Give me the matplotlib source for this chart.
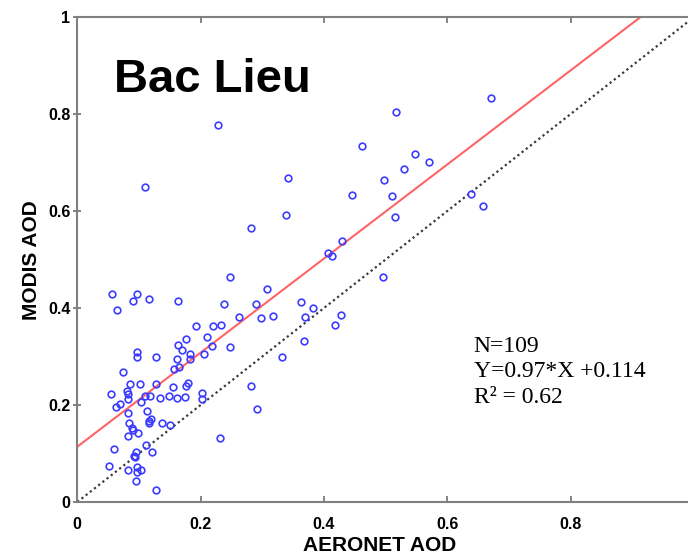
import matplotlib
matplotlib.use("Agg")
import matplotlib.pyplot as plt
import numpy as np

# AERONET AOD (x) and MODIS AOD (y)
aeronet = [0.056, 0.065, 0.091, 0.097, 0.117, 0.164, 0.247, 0.238, 0.290, 0.308,
           0.262, 0.298, 0.192, 0.220, 0.233, 0.177, 0.211, 0.164, 0.170, 0.219,
           0.248, 0.097, 0.097, 0.128, 0.182, 0.182, 0.206, 0.161, 0.157, 0.165,
           0.074, 0.086, 0.101, 0.128, 0.155, 0.177, 0.179, 0.081, 0.083, 0.054,
           0.083, 0.109, 0.118, 0.134, 0.148, 0.162, 0.174, 0.202, 0.202, 0.282,
           0.291, 0.062, 0.069, 0.104, 0.083, 0.113, 0.120, 0.117, 0.116, 0.084,
           0.138, 0.151, 0.088, 0.090, 0.099, 0.082, 0.231, 0.111, 0.059, 0.095,
           0.121, 0.092, 0.093, 0.052, 0.097, 0.083, 0.104, 0.096, 0.095, 0.128,
           0.228, 0.342, 0.446, 0.339, 0.282, 0.430, 0.407, 0.413, 0.362, 0.383,
           0.317, 0.370, 0.427, 0.418, 0.671, 0.516, 0.462, 0.548, 0.571, 0.529,
           0.498, 0.511, 0.515, 0.638, 0.658, 0.495, 0.367, 0.332, 0.110]
modis = [0.428, 0.396, 0.415, 0.428, 0.418, 0.415, 0.464, 0.408, 0.409, 0.439,
         0.382, 0.379, 0.363, 0.363, 0.365, 0.336, 0.340, 0.323, 0.314, 0.322,
         0.320, 0.310, 0.299, 0.299, 0.306, 0.295, 0.305, 0.295, 0.274, 0.279,
         0.268, 0.244, 0.244, 0.244, 0.237, 0.239, 0.246, 0.229, 0.222, 0.222,
         0.212, 0.218, 0.218, 0.215, 0.218, 0.214, 0.217, 0.224, 0.212, 0.240,
         0.192, 0.195, 0.202, 0.207, 0.183, 0.188, 0.171, 0.166, 0.162, 0.163,
         0.162, 0.159, 0.152, 0.148, 0.142, 0.137, 0.132, 0.117, 0.109, 0.104,
         0.103, 0.094, 0.092, 0.075, 0.073, 0.067, 0.065, 0.061, 0.044, 0.024,
         0.778, 0.669, 0.633, 0.591, 0.564, 0.538, 0.514, 0.507, 0.413, 0.400,
         0.384, 0.382, 0.385, 0.365, 0.833, 0.805, 0.733, 0.717, 0.701, 0.687,
         0.663, 0.630, 0.588, 0.635, 0.611, 0.463, 0.331, 0.300, 0.650]

slope = 0.97
intercept = 0.114
n_points = 109
r2 = 0.62
site = "Bac Lieu"
xticks = [0, 0.2, 0.4, 0.6, 0.8]
xticklabels = ["0", "0.2", "0.4", "0.6", "0.8"]
yticks = [0, 0.2, 0.4, 0.6, 0.8, 1.0]
yticklabels = ["0", "0.2", "0.4", "0.6", "0.8", "1"]

W, H = 688, 558
fig = plt.figure(figsize=(W / 100, H / 100), dpi=100)
ax = fig.add_axes([77.3 / W, (H - 502) / H, 616.7 / W, 485 / H])

sans = "Liberation Sans"
serif = "Liberation Serif"

# 1:1 line
ax.plot([0, 1], [0, 1], linestyle=(0, (1, 1.4)), color="#3a3a3a", lw=1.6, zorder=2)
# regression line
xr = np.array([0, (1 - intercept) / slope])
ax.plot(xr, slope * xr + intercept, color="#ff6464", lw=1.5, zorder=2)

ax.plot(aeronet, modis, "o", mfc="none", mec="#3c3cff", ms=4.8, mew=1.2, zorder=3)

ax.set_xlim(0, 1)
ax.set_ylim(0, 1)
ax.set_xticks(xticks)
ax.set_xticklabels(xticklabels, fontfamily=sans, fontweight="bold", fontsize=11.5)
ax.set_yticks(yticks)
ax.set_yticklabels(yticklabels, fontfamily=sans, fontweight="bold", fontsize=11.5)
ax.tick_params(axis="x", direction="in", length=4, width=1.2, color="#707070",
               pad=11, top=True)
ax.tick_params(axis="y", direction="inout", length=6, width=1.2, color="#707070",
               pad=2, right=True)
for s in ax.spines.values():
    s.set_color("#808080")
    s.set_linewidth(1.5)

ax.set_xlabel("AERONET AOD", fontfamily=sans, fontweight="bold", fontsize=15)
ax.xaxis.set_label_coords(0.491, -0.070)
ax.set_ylabel("MODIS AOD", fontfamily=sans, fontweight="bold", fontsize=15)
ax.yaxis.set_label_coords(-0.059, 0.499)

ax.text(0.059, 0.846, site, fontfamily=sans, fontweight="bold", fontsize=34,
        va="baseline", ha="left")

ax.text(0.643, 0.343,
        f"N={n_points}\nY={slope:.2f}*X +{intercept:.3f}\nR\u00b2 = {r2:.2f}",
        fontfamily=serif, fontsize=17, va="top", ha="left", linespacing=1.3)

fig.savefig("out.png", dpi=100)
